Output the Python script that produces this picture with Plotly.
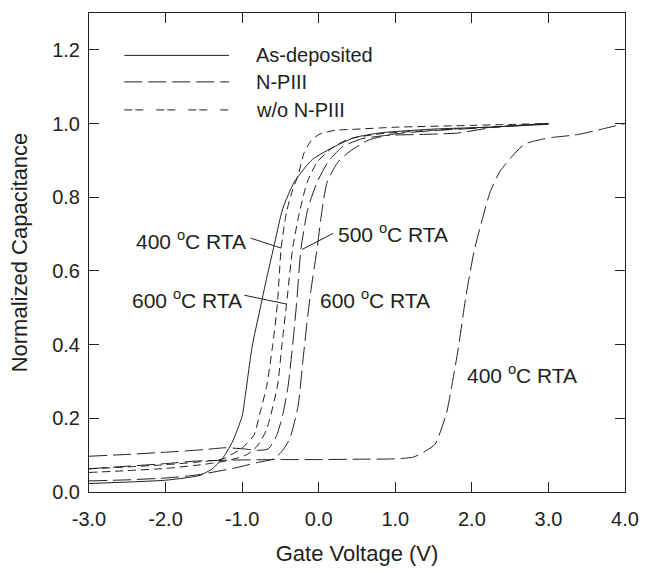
import plotly.graph_objects as go

# ---------------- data ----------------
# As-deposited (solid)
asdep_v = [-3.0, -2.5, -2.0, -1.65, -1.54, -1.39, -1.26, -1.13, -1.0, -0.96, -0.87, -0.77, -0.68,
           -0.59, -0.47, -0.32, -0.2, -0.08, 0.22, 0.47, 0.82, 1.5, 2.2, 3.0]
asdep_c = [0.023, 0.027, 0.032, 0.041, 0.046, 0.063, 0.09, 0.135, 0.206, 0.26, 0.394, 0.493, 0.58,
           0.662, 0.769, 0.841, 0.875, 0.903, 0.939, 0.962, 0.975, 0.985, 0.99, 0.998]

# w/o N-PIII, 400 C RTA (short dash)
wo400_v = [-3.0, -2.5, -2.0, -1.5, -1.25, -1.0, -0.85, -0.76, -0.68, -0.60, -0.54, -0.49, -0.42,
           -0.34, -0.27, -0.19, -0.10, 0.0, 0.22, 0.43, 1.0, 2.0, 3.0]
wo400_c = [0.063, 0.068, 0.074, 0.083, 0.09, 0.12, 0.153, 0.22, 0.287, 0.40, 0.51, 0.662, 0.76,
           0.82, 0.859, 0.921, 0.953, 0.97, 0.982, 0.984, 0.99, 0.995, 1.0]

# w/o N-PIII, 600 C RTA (short dash)
wo600_v = [-3.0, -2.5, -2.0, -1.5, -1.2, -0.95, -0.8, -0.68, -0.54, -0.48, -0.42, -0.34, -0.25,
           -0.15, -0.02, 0.18, 0.4, 0.8, 1.5, 2.2, 3.0]
wo600_c = [0.053, 0.058, 0.064, 0.075, 0.085, 0.1, 0.125, 0.17, 0.287, 0.40, 0.51, 0.662, 0.76,
           0.841, 0.895, 0.935, 0.958, 0.972, 0.982, 0.99, 1.0]

# N-PIII, 500 C RTA (long dash)
n500_v = [-3.0, -2.5, -2.0, -1.5, -1.22, -0.98, -0.8, -0.66, -0.55, -0.47, -0.40, -0.34, -0.29,
          -0.23, -0.14, -0.02, 0.12, 0.30, 0.55, 0.9, 1.25, 1.8, 2.3, 3.0]
n500_c = [0.097, 0.102, 0.108, 0.115, 0.12, 0.117, 0.113, 0.117, 0.153, 0.21, 0.287, 0.40, 0.51,
          0.662, 0.77, 0.841, 0.895, 0.935, 0.958, 0.968, 0.97, 0.974, 0.99, 1.0]

# N-PIII, 600 C RTA (long dash)
n600_v = [-3.0, -2.5, -2.0, -1.6, -1.1, -0.8, -0.59, -0.49, -0.38, -0.27, -0.21, -0.14, -0.10,
          -0.02, 0.04, 0.11, 0.25, 0.41, 0.65, 1.0, 1.6, 2.3, 3.0]
n600_c = [0.03, 0.033, 0.038, 0.046, 0.065, 0.08, 0.09, 0.108, 0.144, 0.233, 0.35, 0.483, 0.55,
          0.662, 0.76, 0.841, 0.895, 0.925, 0.955, 0.972, 0.982, 0.99, 1.0]

# N-PIII, 400 C RTA (long dash)
n400_v = [-3.0, -2.5, -2.0, -1.6, -1.0, -0.5, 0.0, 0.5, 1.0, 1.24, 1.41, 1.52, 1.67, 1.73, 1.82,
          1.92, 2.03, 2.14, 2.24, 2.37, 2.53, 2.69, 2.91, 3.04, 3.38, 3.72, 4.0]
n400_c = [0.063, 0.07, 0.077, 0.084, 0.087, 0.088, 0.088, 0.089, 0.09, 0.095, 0.113, 0.13, 0.215,
          0.279, 0.386, 0.528, 0.654, 0.743, 0.815, 0.871, 0.912, 0.944, 0.957, 0.962, 0.970,
          0.986, 1.0]

x_ticks = [-3.0, -2.0, -1.0, 0.0, 1.0, 2.0, 3.0, 4.0]
y_ticks = [0.0, 0.2, 0.4, 0.6, 0.8, 1.0, 1.2]

legend_labels = ["As-deposited", "N-PIII", "w/o N-PIII"]

# ---------------- styles ----------------
INK = "#231f20"
FONT = "Liberation Sans, Arial, sans-serif"
SOLID = "solid"
LONG = "18px,6px"
SHORT = "8px,5px"
SHORT_LEG = "8px,3px,8px,13px"

fig = go.Figure()

series = [
    (asdep_v, asdep_c, SOLID),
    (wo400_v, wo400_c, SHORT),
    (wo600_v, wo600_c, SHORT),
    (n500_v, n500_c, LONG),
    (n600_v, n600_c, LONG),
    (n400_v, n400_c, LONG),
]
for v, c, d in series:
    fig.add_trace(go.Scatter(x=v, y=c, mode="lines", showlegend=False, hoverinfo="skip",
                             line=dict(color=INK, width=1, dash=d, shape="spline", smoothing=0.6)))

# manual legend (long sample lines as in the reference)
leg_x0, leg_x1, leg_tx = -2.54, -1.17, -0.85
leg_y = [1.185, 1.113, 1.037]
leg_dash = [SOLID, LONG, SHORT_LEG]
for lab, yy, dd in zip(legend_labels, leg_y, leg_dash):
    fig.add_shape(type="line", xref="x", yref="y", x0=leg_x0, x1=leg_x1, y0=yy, y1=yy,
                  line=dict(color=INK, width=1, dash=dd))
    fig.add_annotation(x=leg_tx, y=yy, xref="x", yref="y", text=lab, showarrow=False,
                       xanchor="left", yanchor="middle", font=dict(size=20, color=INK, family=FONT))

ann_font = dict(size=21, color=INK, family=FONT)
lab = "400 <sup>o</sup>C RTA"
lab5 = "500 <sup>o</sup>C RTA"
lab6 = "600 <sup>o</sup>C RTA"

# labels with leader lines
fig.add_annotation(x=-0.92, y=0.684, text=lab, showarrow=False, xanchor="right", yanchor="middle", font=ann_font)
fig.add_shape(type="line", xref="x", yref="y", x0=-0.89, y0=0.689, x1=-0.49, y1=0.662, line=dict(color=INK, width=1))

fig.add_annotation(x=0.22, y=0.702, text=lab5, showarrow=False, xanchor="left", yanchor="middle", font=ann_font)
fig.add_shape(type="line", xref="x", yref="y", x0=0.19, y0=0.702, x1=-0.22, y1=0.658, line=dict(color=INK, width=1))

fig.add_annotation(x=-0.98, y=0.525, text=lab6, showarrow=False, xanchor="right", yanchor="middle", font=ann_font)
fig.add_shape(type="line", xref="x", yref="y", x0=-0.97, y0=0.534, x1=-0.42, y1=0.51, line=dict(color=INK, width=1))

fig.add_annotation(x=-0.01, y=0.525, text=lab6, showarrow=False, xanchor="left", yanchor="middle", font=ann_font)
fig.add_annotation(x=1.91, y=0.32, text=lab, showarrow=False, xanchor="left", yanchor="middle", font=ann_font)

axis_common = dict(showline=True, linecolor=INK, linewidth=1, mirror="ticks", ticks="inside",
                   ticklen=10, tickcolor=INK, tickwidth=1, showgrid=False, zeroline=False,
                   tickfont=dict(size=20, color=INK, family=FONT))

fig.update_xaxes(range=[-3.0, 4.0], tickvals=x_ticks, ticktext=[f"{t:.1f}" for t in x_ticks],
                 title=dict(text="Gate Voltage (V)", font=dict(size=22, color=INK, family=FONT), standoff=16),
                 ticklabelstandoff=9, **axis_common)
fig.update_yaxes(range=[0.0, 1.3], tickvals=y_ticks, ticktext=[f"{t:.1f}" for t in y_ticks],
                 title=dict(text="Normalized Capacitance", font=dict(size=22, color=INK, family=FONT), standoff=18),
                 ticklabelstandoff=4, **axis_common)

fig.update_layout(width=651, height=573, margin=dict(l=89, r=16, t=12, b=76),
                  plot_bgcolor="white", paper_bgcolor="white", font=dict(family=FONT, color=INK))

# remove the default 8 px page margin so the figure fills the window exactly
fig.write_html("out.html", config={"displayModeBar": False, "staticPlot": True},
               post_script="document.body.style.margin='0';document.body.style.overflow='hidden';")
